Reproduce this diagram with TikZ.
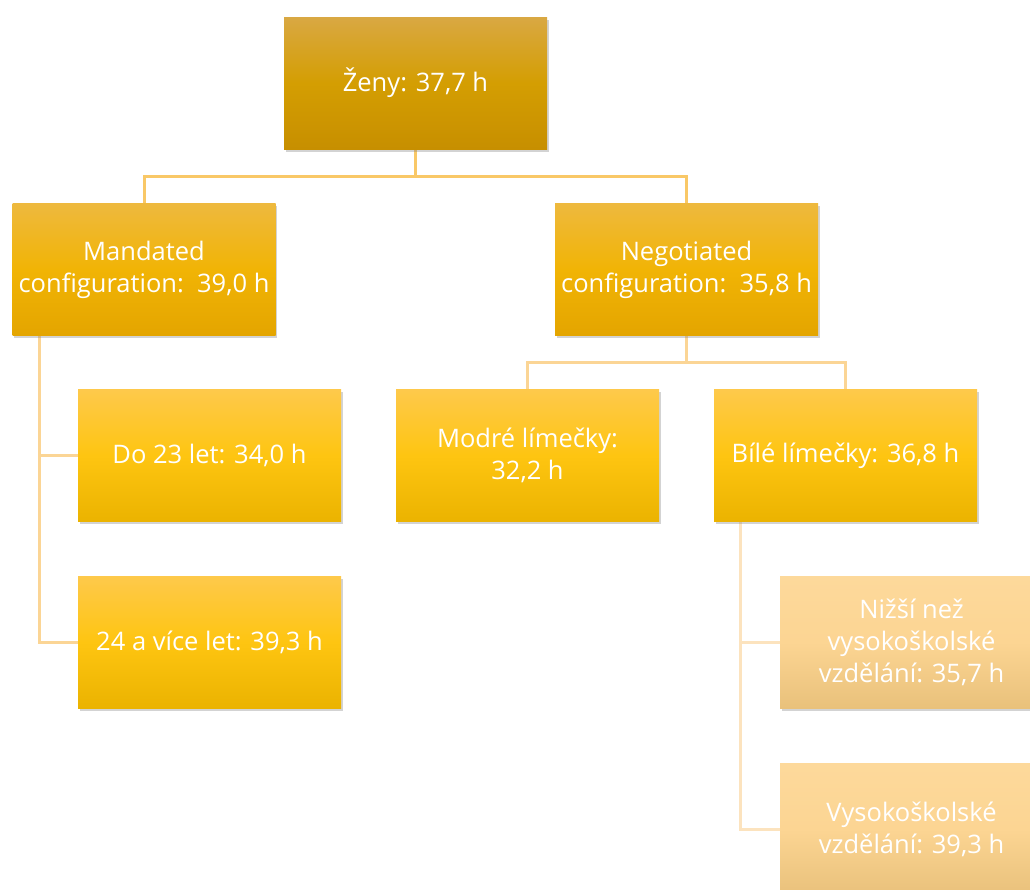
\documentclass[tikz,border=0pt]{standalone}
\usepackage{fontspec}
\setmainfont{Open Sans}
\usetikzlibrary{positioning,shadows,backgrounds}
\definecolor{rootTop}{HTML}{D9A843}
\definecolor{rootMid}{HTML}{D49E02}
\definecolor{rootBot}{HTML}{C78F00}
\definecolor{oneTop}{HTML}{EEB93E}
\definecolor{oneMid}{HTML}{F1B405}
\definecolor{oneBot}{HTML}{E4A500}
\definecolor{twoTop}{HTML}{FEC94B}
\definecolor{twoMid}{HTML}{FEC511}
\definecolor{twoBot}{HTML}{EBB300}
\definecolor{threeTop}{HTML}{FDD99B}
\definecolor{threeMid}{HTML}{FCD593}
\definecolor{threeBot}{HTML}{E9C17B}
\definecolor{lineOne}{HTML}{F9C867}
\definecolor{lineTwo}{HTML}{FBD595}
\definecolor{lineThree}{HTML}{FCE3BE}
\tikzset{
  box/.style={
    % The shape:
    rectangle,
    minimum width=263pt,
    minimum height=132pt,
    inner sep=0pt,
    % Text
    text=white,
    align=center,
    font=\fontsize{25.5}{32}\selectfont,
    % Shadow
    drop shadow={shadow xshift=1.5pt,shadow yshift=-2.5pt,opacity=0.35}
  },
  lvlroot/.style={box,top color=rootTop,bottom color=rootBot,middle color=rootMid},
  lvlone/.style={box,top color=oneTop,bottom color=oneBot,middle color=oneMid},
  lvltwo/.style={box,top color=twoTop,bottom color=twoBot,middle color=twoMid},
  lvlthree/.style={box,top color=threeTop,bottom color=threeBot,middle color=threeMid},
  conn/.style={line width=3pt,draw=#1}
}
\begin{document}
\begin{tikzpicture}[x=1pt,y=-1pt]
  \useasboundingbox (0,0) rectangle (1030,889);
  \clip (0,0) rectangle (1030,889);

  \node (root)  [lvlroot]  at (415.5,83)   {Ženy: 37,7 h};
  \node (mand)  [lvlone]   at (144,269.5)  {Mandated\\configuration:\ \ 39,0 h};
  \node (nego)  [lvlone]   at (686.5,269.5){Negotiated\\configuration:\ \ 35,8 h};
  \node (do23)  [lvltwo]   at (209.5,455.5){Do 23 let: 34,0 h};
  \node (vice)  [lvltwo]   at (209.5,642)  {24 a více let: 39,3 h};
  \node (modre) [lvltwo]   at (527.5,455.5){Modré límečky:\\32,2 h};
  \node (bile)  [lvltwo]   at (845.5,455.5){Bílé límečky: 36,8 h};
  \node (nizsi) [lvlthree] at (911.5,642)  {Nižší než\\vysokoškolské\\vzdělání: 35,7 h};
  \node (vysok) [lvlthree] at (911.5,829)  {Vysokoškolské\\vzdělání: 39,3 h};

  % connectors behind the boxes
  \begin{pgfonlayer}{background}
    \draw[conn=lineOne] (root.south) -- ++(0,27) -| (mand.north);
    \draw[conn=lineOne] (root.south) -- ++(0,27) -| (nego.north);
    \draw[conn=lineTwo] ([xshift=27pt]mand.south west) |- (do23.west);
    \draw[conn=lineTwo] ([xshift=27pt]mand.south west) |- (vice.west);
    \draw[conn=lineTwo] (nego.south) -- ++(0,27) -| (modre.north);
    \draw[conn=lineTwo] (nego.south) -- ++(0,27) -| (bile.north);
    \draw[conn=lineThree] ([xshift=27pt]bile.south west) |- (nizsi.west);
    \draw[conn=lineThree] ([xshift=27pt]bile.south west) |- (vysok.west);
  \end{pgfonlayer}
\end{tikzpicture}
\end{document}
